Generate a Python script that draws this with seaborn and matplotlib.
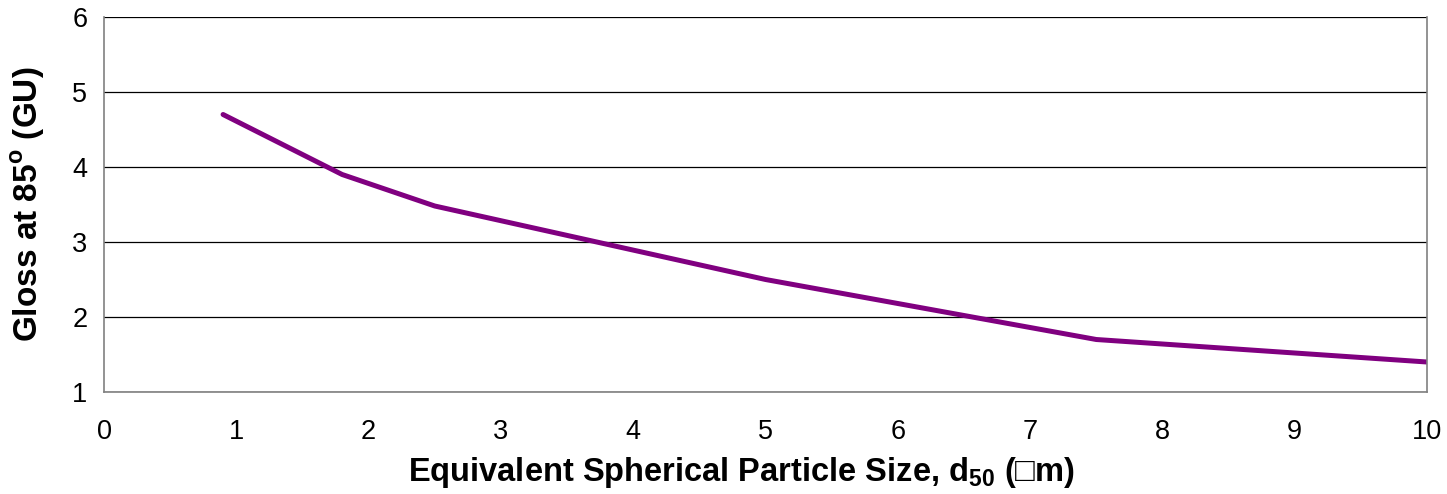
import pandas as pd
import matplotlib
matplotlib.use("Agg")
import matplotlib.pyplot as plt
import seaborn as sns

# data
particle_size = [0.9, 1.8, 2.5, 5.0, 7.5, 10.0]
gloss_85 = [4.7, 3.9, 3.48, 2.5, 1.7, 1.4]
x_ticks = list(range(0, 11))
y_ticks = [1, 2, 3, 4, 5, 6]

df = pd.DataFrame({"size": particle_size, "gloss": gloss_85})

sns.set_theme(style="white")
plt.rcParams["font.family"] = ["Liberation Sans", "DejaVu Sans"]
plt.rcParams["text.color"] = "black"
plt.rcParams["axes.labelcolor"] = "black"
plt.rcParams["mathtext.fontset"] = "custom"
plt.rcParams["mathtext.rm"] = "Liberation Sans"
plt.rcParams["mathtext.bf"] = "Liberation Sans:bold"

fig = plt.figure(figsize=(14.47, 4.94), dpi=100)
ax = fig.add_axes([104 / 1447, 1 - 392 / 494, 1323 / 1447, 375 / 494])

sns.lineplot(data=df, x="size", y="gloss", color="#800080", linewidth=3.6,
             solid_capstyle="round", ax=ax)

ax.set_xlim(0, 10)
ax.set_ylim(1, 6)
ax.set_xticks(x_ticks)
ax.set_yticks(y_ticks)
ax.grid(axis="y", color="black", linewidth=0.9)
ax.grid(axis="x", visible=False)
ax.set_axisbelow(True)

for side in ["left", "bottom", "right"]:
    ax.spines[side].set_visible(True)
    ax.spines[side].set_color("#808080")
    ax.spines[side].set_linewidth(1.2)
ax.spines["top"].set_visible(False)

ax.tick_params(axis="both", direction="out", width=1.2, color="#606060",
               labelsize=19.5, labelcolor="black")
ax.tick_params(axis="x", length=7.2, pad=12)
ax.tick_params(axis="y", length=6, pad=6)

ax.set_xlabel("Equivalent Spherical Particle Size, d$_{\\mathbf{50}}$ (\u25a1m)",
              fontsize=23.5, fontweight="bold")
ax.set_ylabel("Gloss at 85$^{\\mathbf{o}}$ (GU)", fontsize=24, fontweight="bold")
ax.xaxis.set_label_coords(0.4815, -0.168)
ax.yaxis.set_label_coords(-0.043, 0.5)

fig.savefig("out.png", dpi=100)
